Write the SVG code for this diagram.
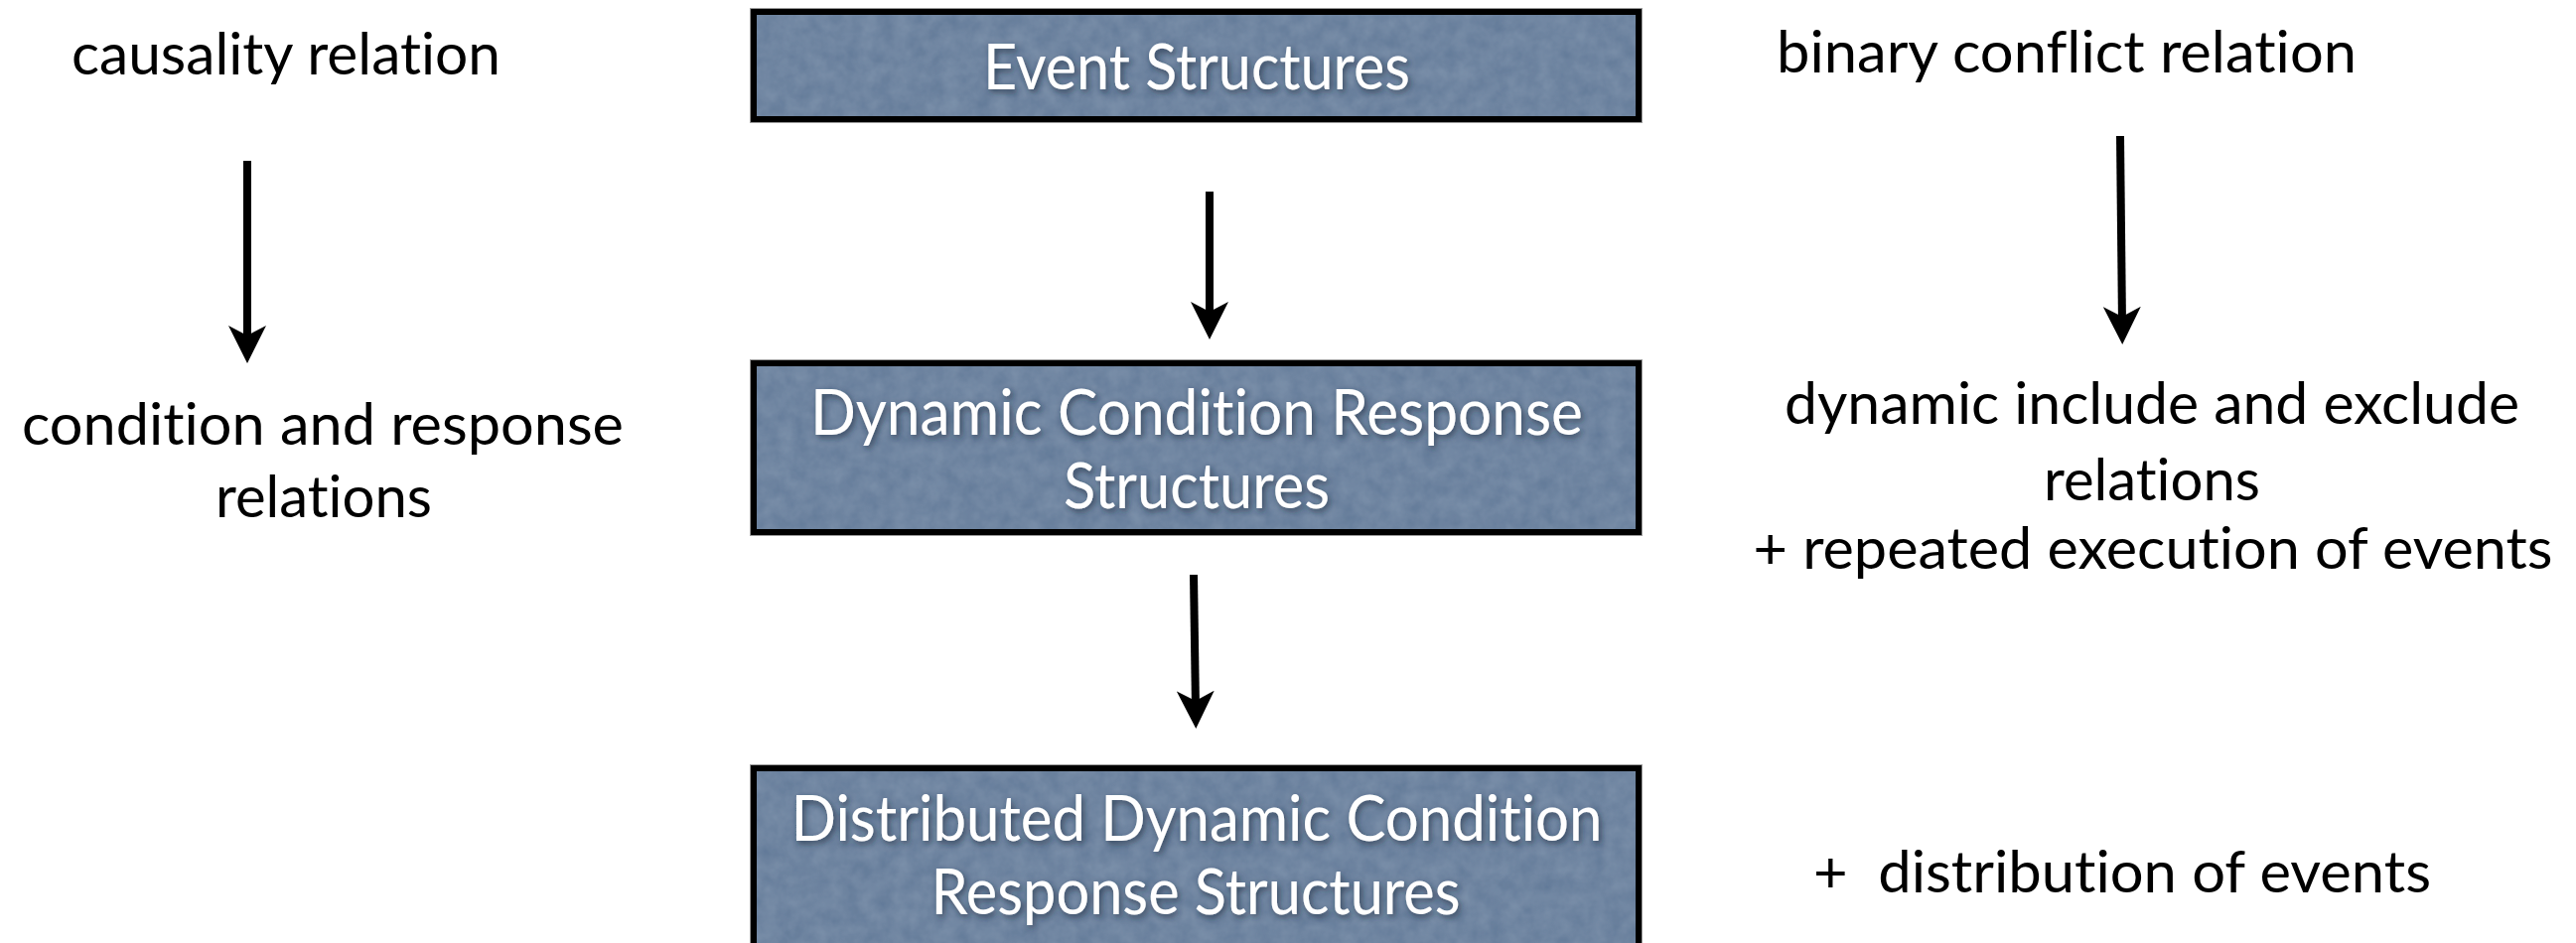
<svg xmlns="http://www.w3.org/2000/svg" width="2594" height="950" viewBox="0 0 2594 950">
<style>
text{font-variant-ligatures:none;font-feature-settings:"liga" 0,"clig" 0}
.side{font-family:Lato,"Open Sans","Liberation Sans",sans-serif;font-size:58px;fill:#000;text-anchor:middle}
.btxt{font-family:Lato,"Open Sans","Liberation Sans",sans-serif;font-size:64px;fill:#fff;text-anchor:middle;filter:url(#shadow)}
.box{fill:none;stroke:#000;stroke-width:6}
.edge{fill:none;stroke:#9a9a9a;stroke-width:1}
.boxtex{fill:#607897;filter:url(#noise)}
.arrow{stroke:#000;stroke-width:8;fill:none;marker-end:url(#ah)}
</style>
<defs>
<marker id="ah" markerUnits="userSpaceOnUse" markerWidth="38" markerHeight="38" viewBox="0 0 38 38" refX="18" refY="19" orient="auto">
<path d="M0,0 L38,19 L0,38 L10,19 Z" fill="#000"/>
</marker>
<filter id="shadow" x="-10%" y="-30%" width="120%" height="160%">
<feDropShadow dx="2" dy="3" stdDeviation="3" flood-color="#1e2a3a" flood-opacity="0.7"/>
</filter>
<filter id="noise" x="0" y="0" width="100%" height="100%">
<feTurbulence type="fractalNoise" baseFrequency="0.06" numOctaves="3" seed="4" result="t"/>
<feColorMatrix in="t" type="matrix" values="0 0 0 0 0.37  0 0 0 0 0.47  0 0 0 0 0.59  0 0 0 0.35 0" result="n"/>
<feComposite in="n" in2="SourceGraphic" operator="in" result="nn"/>
<feMerge><feMergeNode in="SourceGraphic"/><feMergeNode in="nn"/></feMerge>
</filter>
</defs>
<rect width="2594" height="950" fill="#fff"/>

<g id="causality">
<text class="side" x="288" y="75" textLength="432" lengthAdjust="spacingAndGlyphs">causality relation</text>
</g>
<g id="condition-response">
<text class="side" x="325" y="448" textLength="606" lengthAdjust="spacingAndGlyphs">condition and response</text>
<text class="side" x="326" y="521" textLength="218" lengthAdjust="spacingAndGlyphs">relations</text>
</g>
<g id="binary-conflict">
<text class="side" x="2081" y="73" textLength="584" lengthAdjust="spacingAndGlyphs">binary conflict relation</text>
</g>
<g id="include-exclude">
<text class="side" x="2167" y="427" textLength="740" lengthAdjust="spacingAndGlyphs">dynamic include and exclude</text>
<text class="side" x="2167" y="504" textLength="218" lengthAdjust="spacingAndGlyphs">relations</text>
<text class="side" x="2168" y="573" textLength="805" lengthAdjust="spacingAndGlyphs">+ repeated execution of events</text>
</g>
<g id="distribution">
<text class="side" x="2137" y="899" textLength="622" lengthAdjust="spacingAndGlyphs" xml:space="preserve">+  distribution of events</text>
</g>

<g id="event-structures">
<rect class="boxtex" x="759" y="12" width="891" height="108"/>
<rect class="box" x="759" y="12" width="891" height="108"/>
<rect class="edge" x="755.5" y="8.5" width="898" height="115"/>
<text class="btxt" x="1205" y="90" textLength="430" lengthAdjust="spacingAndGlyphs">Event Structures</text>
</g>
<g id="dcr">
<rect class="boxtex" x="759" y="366" width="891" height="170"/>
<rect class="box" x="759" y="366" width="891" height="170"/>
<rect class="edge" x="755.5" y="362.5" width="898" height="177"/>
<text class="btxt" x="1205" y="438" textLength="778" lengthAdjust="spacingAndGlyphs">Dynamic Condition Response</text>
<text class="btxt" x="1205" y="512" textLength="268" lengthAdjust="spacingAndGlyphs">Structures</text>
</g>
<g id="ddcr">
<rect class="boxtex" x="759" y="774" width="891" height="190"/>
<rect class="box" x="759" y="774" width="891" height="190"/>
<rect class="edge" x="755.5" y="770.5" width="898" height="200"/>
<text class="btxt" x="1205" y="847" textLength="817" lengthAdjust="spacingAndGlyphs">Distributed Dynamic Condition</text>
<text class="btxt" x="1204" y="921" textLength="533" lengthAdjust="spacingAndGlyphs">Response Structures</text>
</g>

<g id="connectors">
<line class="arrow" x1="249" y1="162" x2="249" y2="346"/>
<line class="arrow" x1="1218" y1="193" x2="1218" y2="322"/>
<line class="arrow" x1="1202" y1="579" x2="1204" y2="714"/>
<line class="arrow" x1="2135" y1="137" x2="2137" y2="327"/>
</g>
</svg>
